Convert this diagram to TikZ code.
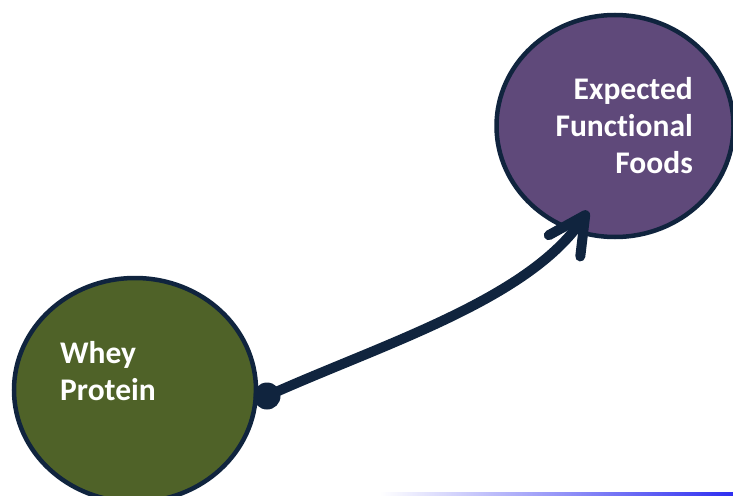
\documentclass[tikz,border=0pt]{standalone}
\usepackage{fontspec}
\setmainfont{Carlito}[Ligatures=NoCommon]
\usetikzlibrary{shapes.geometric,arrows.meta}
\definecolor{navy}{HTML}{10243E}
\definecolor{greenc}{HTML}{4F6228}
\definecolor{purplec}{HTML}{5F497A}
\definecolor{barblue}{HTML}{2E2EF0}
\tikzset{
  bubble/.style={ellipse, draw=navy, line width=4.5pt, inner sep=0pt},
  label/.style={text=white, font=\bfseries\fontsize{31.5}{37}\selectfont, inner sep=0pt},
  conn/.style={draw=navy, line width=10pt, line cap=round,
    -{Straight Barb[length=37pt, width=38pt, round]}},
  dotnode/.style={circle, fill=navy, minimum size=27pt, inner sep=0pt}
}
\begin{document}
\begin{tikzpicture}[x=1pt,y=-1pt]
\useasboundingbox (0,0) rectangle (733,495);
\begin{scope}
\clip (0,0) rectangle (733,495);
\node[bubble, fill=purplec, minimum width=237pt, minimum height=222pt] (pur) at (615,126) {};
\node[bubble, fill=greenc, minimum width=242pt, minimum height=224pt] (gre) at (135,390) {};
\end{scope}
\node[label, anchor=base east, align=right] (ptext) at (693,173) {Expected\\Functional\\Foods};
\node[label, anchor=base west, align=left] (gtext) at (60,400) {Whey\\Protein};
\node[dotnode] (dot) at (267,396) {};
\coordinate (tip) at (588,211);
\draw[conn] (dot.center) .. controls (380,345) and (528,300) .. (tip);
\shade[left color=white, right color=barblue] (380,492) rectangle (733,495);
\end{tikzpicture}
\end{document}
